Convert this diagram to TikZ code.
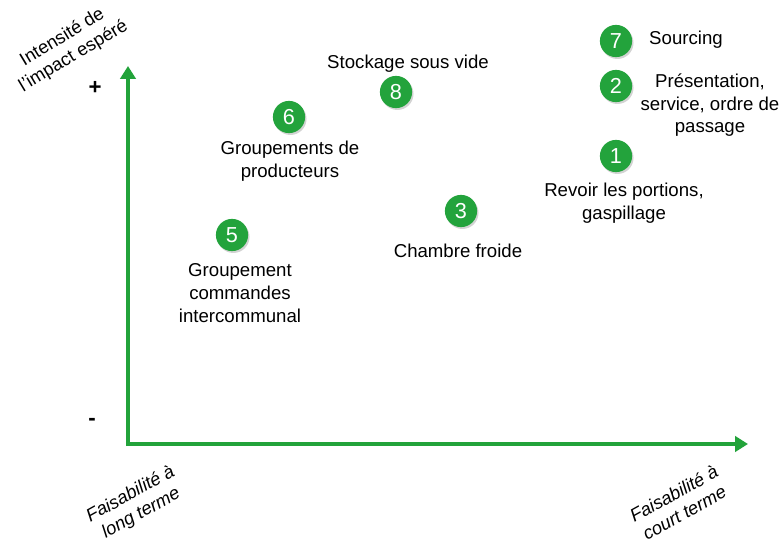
\documentclass[tikz,border=0pt]{standalone}
\usepackage{fontspec}
\setmainfont{Liberation Sans}
\usetikzlibrary{shadows}
\usetikzlibrary{positioning, arrows.meta}
\definecolor{vertaxe}{HTML}{22A33A}
\definecolor{vertpuce}{HTML}{23A33C}

\begin{document}
\begin{tikzpicture}[x=0.03cm, y=-0.03cm]
        % Define styles
        \tikzstyle{puce} = [circle, fill=vertpuce, text=white, minimum size=27.5pt, inner sep=0pt,
            font=\fontsize{18.5}{18.5}\selectfont,
            drop shadow={opacity=0.35, shadow xshift=1.2pt, shadow yshift=-1.6pt}]
        \tikzstyle{etiquette} = [align=center, inner sep=1pt, yshift=-1.8pt, font=\fontsize{15.9}{19.3}\selectfont]
        \tikzstyle{axe} = [draw=vertaxe, line width=3.8pt, -{Triangle[length=11pt, width=13pt]}]
        \tikzstyle{legende} = [align=center, inner sep=0pt, font=\fontsize{15.6}{18.5}\selectfont]
        \useasboundingbox (0,0) rectangle (784,543);

        % Axes
        \coordinate (origine) at (128,444);
        \coordinate (ymax) at (128,66);
        \coordinate (xmax) at (748,444);
        \draw[axe] ([yshift=-1.9pt]origine) -- (ymax);
        \draw[axe] ([xshift=-1.9pt]origine) -- (xmax);
        \node[etiquette, font=\fontsize{19}{19}\selectfont\bfseries] (plus) at (95,86) {+};
        \node[etiquette, font=\fontsize{19}{19}\selectfont\bfseries] (moins) at (92,420) {-};
        \node[legende, rotate=31] (titrey) at (68,47) {Intensité de\\l’impact espéré};
        \node[legende, rotate=29, font=\fontsize{15.6}{18.5}\selectfont\itshape] (titrex1) at (136,504) {Faisabilité à\\long terme};
        \node[legende, rotate=29, font=\fontsize{15.6}{18.5}\selectfont\itshape] (titrex2) at (679,503) {Faisabilité à\\court terme};

        % Actions
        \node[puce] (circ7) at (616,41) {7};
        \node[etiquette] (txt7) at (686,38) {Sourcing};
        \node[puce] (circ2) at (616,86) {2};
        \node[etiquette] (txt2) at (710,103) {Présentation,\\service, ordre de\\passage};
        \node[puce] (circ1) at (616,156) {1};
        \node[etiquette] (txt1) at (624,201) {Revoir les portions,\\gaspillage};
        \node[puce] (circ8) at (396,92) {8};
        \node[etiquette] (txt8) at (408,62) {Stockage sous vide};
        \node[puce] (circ6) at (289,117) {6};
        \node[etiquette] (txt6) at (290,159) {Groupements de\\producteurs};
        \node[puce] (circ3) at (461,211) {3};
        \node[etiquette] (txt3) at (458,249) {Chambre froide};
        \node[puce] (circ5) at (232,235) {5};
        \node[etiquette] (txt5) at (240,291) {Groupement\\commandes\\intercommunal};
\end{tikzpicture}
\end{document}
